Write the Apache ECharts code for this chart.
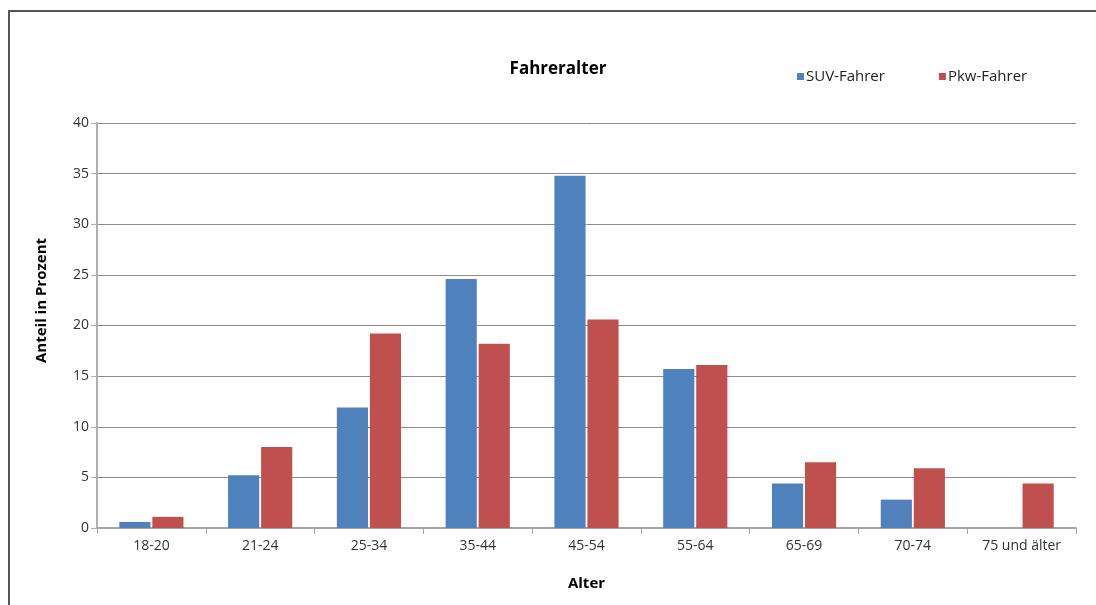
<!DOCTYPE html>
<html><head><meta charset="utf-8">
<script src="https://cdn.jsdelivr.net/npm/echarts@6/dist/echarts.min.js"></script>
<style>
html,body{margin:0;padding:0;background:#fff;}
#frame{position:absolute;left:8px;top:10px;width:1200px;height:700px;border:2px solid #555;box-sizing:border-box;}
#c{position:absolute;left:0;top:0;width:1096px;height:605px;}
</style></head>
<body><div id="frame"></div><div id="c"></div>
<script>
const categories = ['18-20','21-24','25-34','35-44','45-54','55-64','65-69','70-74','75 und älter'];
const suvValues = [0.6, 5.2, 11.9, 24.6, 34.8, 15.7, 4.4, 2.8, 0];
const pkwValues = [1.1, 8.0, 19.2, 18.2, 20.6, 16.1, 6.5, 5.9, 4.4];
const seriesNames = ['SUV-Fahrer','Pkw-Fahrer'];
const font = '"Open Sans", "DejaVu Sans", sans-serif';
const chart = echarts.init(document.getElementById('c'));
chart.setOption({
  animation:false,
  title:{text:'Fahreralter',left:553,top:56,textAlign:'center',textStyle:{fontFamily:font,fontSize:17,fontWeight:'bold',color:'#000'}},
  legend:{data:seriesNames,left:792,top:64,itemWidth:7,itemHeight:7,itemGap:54,icon:'rect',
    itemStyle:{borderWidth:0},
    textStyle:{fontFamily:font,fontSize:15,color:'#222',padding:[0,0,0,-3]}},
  grid:{left:97,right:20,top:123,bottom:77},
  xAxis:{type:'category',data:categories,
    name:'Alter',nameLocation:'middle',nameGap:48,
    nameTextStyle:{fontFamily:font,fontSize:15,fontWeight:'bold',color:'#000'},
    axisLine:{lineStyle:{color:'#a6a6a6',width:2}},
    axisTick:{show:true,length:6,lineStyle:{color:'#a6a6a6'}},
    axisLabel:{fontFamily:font,fontSize:14,color:'#333',margin:11}},
  yAxis:{type:'value',min:0,max:40,interval:5,
    name:'Anteil in Prozent',nameLocation:'middle',nameGap:48,nameRotate:90,
    nameTextStyle:{fontFamily:font,fontSize:15,fontWeight:'bold',color:'#000',padding:[0,0,0,50]},
    axisLine:{show:true,lineStyle:{color:'#b0b0b0',width:2}},
    axisTick:{show:true,length:6,lineStyle:{color:'#b0b0b0'}},
    splitLine:{lineStyle:{color:'#8c8c8c',width:1}},
    axisLabel:{fontFamily:font,fontSize:14,color:'#333',margin:8}},
  series:[
    {name:seriesNames[0],type:'bar',data:suvValues,barGap:'6%',barCategoryGap:'41%',
      itemStyle:{color:'#4F81BD',borderWidth:0}},
    {name:seriesNames[1],type:'bar',data:pkwValues,
      itemStyle:{color:'#C0504D',borderWidth:0}}
  ]
});
</script></body></html>
